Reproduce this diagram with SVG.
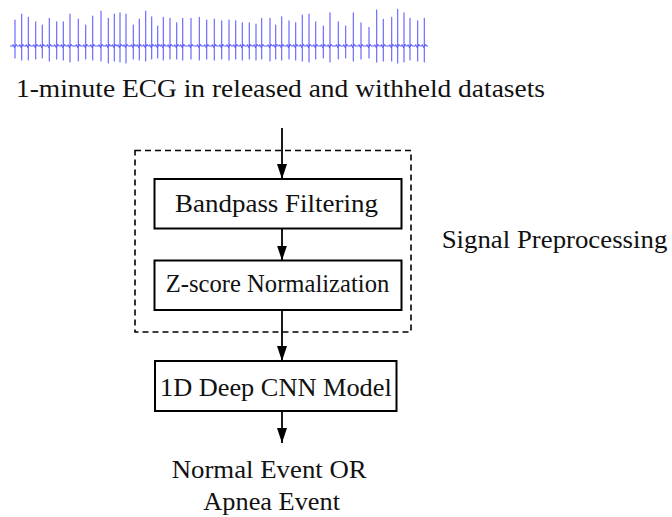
<svg xmlns="http://www.w3.org/2000/svg" width="672" height="517" viewBox="0 0 672 517">
<defs>
<marker id="ah" markerUnits="userSpaceOnUse" markerWidth="15" markerHeight="10" refX="15" refY="5" orient="auto">
<path d="M0,0 L15,5 L0,10 z" fill="#000"/>
</marker>
<style>
.t{font-family:"Liberation Serif","Times New Roman",serif;font-size:24.5px;fill:#111;}
.box{fill:#fff;stroke:#000;stroke-width:2;}
.con{stroke:#000;stroke-width:1.8;fill:none;marker-end:url(#ah);}
</style>
</defs>
<rect width="672" height="517" fill="#fff"/>
<g id="ecg">
<path fill="none" stroke="#1a1aff" stroke-width="1.1" stroke-opacity="0.7" stroke-linejoin="round" d="M10,46
H12.3 l0.8,-1.2 l0.6,1.2 l0.8,1.5 l0.5,0 V20 V58 V47 l1.2,-2.5 l1.2,1.5
H19 l0.8,-1.2 l0.6,1.2 l0.8,1.5 l0.5,0 V14 V60 V47 l1.2,-2.5 l1.2,1.5
H25.6 l0.8,-1.2 l0.6,1.2 l0.8,1.5 l0.5,0 V17.3 V60 V47 l1.2,-2.5 l1.2,1.5
H33 l0.8,-1.2 l0.6,1.2 l0.8,1.5 l0.5,0 V21.7 V59 V47 l1.2,-2.5 l1.2,1.5
H39.6 l0.8,-1.2 l0.6,1.2 l0.8,1.5 l0.5,0 V25 V58 V47 l1.2,-2.5 l1.2,1.5
H46.6 l0.8,-1.2 l0.6,1.2 l0.8,1.5 l0.5,0 V18.3 V61 V47 l1.2,-2.5 l1.2,1.5
H54 l0.8,-1.2 l0.6,1.2 l0.8,1.5 l0.5,0 V21.7 V59 V47 l1.2,-2.5 l1.2,1.5
H60.6 l0.8,-1.2 l0.6,1.2 l0.8,1.5 l0.5,0 V21.7 V60 V47 l1.2,-2.5 l1.2,1.5
H67.3 l0.8,-1.2 l0.6,1.2 l0.8,1.5 l0.5,0 V14 V62 V47 l1.2,-2.5 l1.2,1.5
H75.6 l0.8,-1.2 l0.6,1.2 l0.8,1.5 l0.5,0 V19 V61 V47 l1.2,-2.5 l1.2,1.5
H83 l0.8,-1.2 l0.6,1.2 l0.8,1.5 l0.5,0 V25 V59 V47 l1.2,-2.5 l1.2,1.5
H90 l0.8,-1.2 l0.6,1.2 l0.8,1.5 l0.5,0 V16 V60 V47 l1.2,-2.5 l1.2,1.5
H98.3 l0.8,-1.2 l0.6,1.2 l0.8,1.5 l0.5,0 V11 V61 V47 l1.2,-2.5 l1.2,1.5
H105.6 l0.8,-1.2 l0.6,1.2 l0.8,1.5 l0.5,0 V18.3 V63 V47 l1.2,-2.5 l1.2,1.5
H111.6 l0.8,-1.2 l0.6,1.2 l0.8,1.5 l0.5,0 V14 V61 V47 l1.2,-2.5 l1.2,1.5
H117.3 l0.8,-1.2 l0.6,1.2 l0.8,1.5 l0.5,0 V12.7 V62 V47 l1.2,-2.5 l1.2,1.5
H123.3 l0.8,-1.2 l0.6,1.2 l0.8,1.5 l0.5,0 V14 V63 V47 l1.2,-2.5 l1.2,1.5
H130.6 l0.8,-1.2 l0.6,1.2 l0.8,1.5 l0.5,0 V25 V59 V47 l1.2,-2.5 l1.2,1.5
H136.6 l0.8,-1.2 l0.6,1.2 l0.8,1.5 l0.5,0 V19 V60 V47 l1.2,-2.5 l1.2,1.5
H143 l0.8,-1.2 l0.6,1.2 l0.8,1.5 l0.5,0 V11 V61 V47 l1.2,-2.5 l1.2,1.5
H149 l0.8,-1.2 l0.6,1.2 l0.8,1.5 l0.5,0 V16.7 V59 V47 l1.2,-2.5 l1.2,1.5
H155 l0.8,-1.2 l0.6,1.2 l0.8,1.5 l0.5,0 V26 V58 V47 l1.2,-2.5 l1.2,1.5
H160.6 l0.8,-1.2 l0.6,1.2 l0.8,1.5 l0.5,0 V17.3 V60 V47 l1.2,-2.5 l1.2,1.5
H167.3 l0.8,-1.2 l0.6,1.2 l0.8,1.5 l0.5,0 V18.3 V59 V47 l1.2,-2.5 l1.2,1.5
H174 l0.8,-1.2 l0.6,1.2 l0.8,1.5 l0.5,0 V22.7 V59 V47 l1.2,-2.5 l1.2,1.5
H180 l0.8,-1.2 l0.6,1.2 l0.8,1.5 l0.5,0 V18.3 V60 V47 l1.2,-2.5 l1.2,1.5
H188.3 l0.8,-1.2 l0.6,1.2 l0.8,1.5 l0.5,0 V18.3 V59 V47 l1.2,-2.5 l1.2,1.5
H196.6 l0.8,-1.2 l0.6,1.2 l0.8,1.5 l0.5,0 V17.3 V60 V47 l1.2,-2.5 l1.2,1.5
H204 l0.8,-1.2 l0.6,1.2 l0.8,1.5 l0.5,0 V20 V59 V47 l1.2,-2.5 l1.2,1.5
H211.6 l0.8,-1.2 l0.6,1.2 l0.8,1.5 l0.5,0 V19 V60 V47 l1.2,-2.5 l1.2,1.5
H219 l0.8,-1.2 l0.6,1.2 l0.8,1.5 l0.5,0 V20.7 V59 V47 l1.2,-2.5 l1.2,1.5
H226.3 l0.8,-1.2 l0.6,1.2 l0.8,1.5 l0.5,0 V20 V60 V47 l1.2,-2.5 l1.2,1.5
H233 l0.8,-1.2 l0.6,1.2 l0.8,1.5 l0.5,0 V20.7 V59 V47 l1.2,-2.5 l1.2,1.5
H239.6 l0.8,-1.2 l0.6,1.2 l0.8,1.5 l0.5,0 V22.7 V60 V47 l1.2,-2.5 l1.2,1.5
H246.6 l0.8,-1.2 l0.6,1.2 l0.8,1.5 l0.5,0 V22.7 V59 V47 l1.2,-2.5 l1.2,1.5
H253.3 l0.8,-1.2 l0.6,1.2 l0.8,1.5 l0.5,0 V24 V60 V47 l1.2,-2.5 l1.2,1.5
H259 l0.8,-1.2 l0.6,1.2 l0.8,1.5 l0.5,0 V18.3 V59 V47 l1.2,-2.5 l1.2,1.5
H267.3 l0.8,-1.2 l0.6,1.2 l0.8,1.5 l0.5,0 V18.3 V61 V47 l1.2,-2.5 l1.2,1.5
H273 l0.8,-1.2 l0.6,1.2 l0.8,1.5 l0.5,0 V25 V59 V47 l1.2,-2.5 l1.2,1.5
H279 l0.8,-1.2 l0.6,1.2 l0.8,1.5 l0.5,0 V16.7 V60 V47 l1.2,-2.5 l1.2,1.5
H286.3 l0.8,-1.2 l0.6,1.2 l0.8,1.5 l0.5,0 V20.7 V59 V47 l1.2,-2.5 l1.2,1.5
H293 l0.8,-1.2 l0.6,1.2 l0.8,1.5 l0.5,0 V22.7 V60 V47 l1.2,-2.5 l1.2,1.5
H299.6 l0.8,-1.2 l0.6,1.2 l0.8,1.5 l0.5,0 V15 V61 V47 l1.2,-2.5 l1.2,1.5
H306.3 l0.8,-1.2 l0.6,1.2 l0.8,1.5 l0.5,0 V14 V62 V47 l1.2,-2.5 l1.2,1.5
H313 l0.8,-1.2 l0.6,1.2 l0.8,1.5 l0.5,0 V21.7 V59 V47 l1.2,-2.5 l1.2,1.5
H320.6 l0.8,-1.2 l0.6,1.2 l0.8,1.5 l0.5,0 V26 V58 V47 l1.2,-2.5 l1.2,1.5
H327.3 l0.8,-1.2 l0.6,1.2 l0.8,1.5 l0.5,0 V12.7 V62 V47 l1.2,-2.5 l1.2,1.5
H335.6 l0.8,-1.2 l0.6,1.2 l0.8,1.5 l0.5,0 V21.7 V59 V47 l1.2,-2.5 l1.2,1.5
H343 l0.8,-1.2 l0.6,1.2 l0.8,1.5 l0.5,0 V26 V58 V47 l1.2,-2.5 l1.2,1.5
H350.6 l0.8,-1.2 l0.6,1.2 l0.8,1.5 l0.5,0 V12.7 V61 V47 l1.2,-2.5 l1.2,1.5
H358.3 l0.8,-1.2 l0.6,1.2 l0.8,1.5 l0.5,0 V22.7 V59 V47 l1.2,-2.5 l1.2,1.5
H366.3 l0.8,-1.2 l0.6,1.2 l0.8,1.5 l0.5,0 V27.3 V58 V47 l1.2,-2.5 l1.2,1.5
H374 l0.8,-1.2 l0.6,1.2 l0.8,1.5 l0.5,0 V10 V62 V47 l1.2,-2.5 l1.2,1.5
H380.6 l0.8,-1.2 l0.6,1.2 l0.8,1.5 l0.5,0 V19.3 V61 V47 l1.2,-2.5 l1.2,1.5
H389 l0.8,-1.2 l0.6,1.2 l0.8,1.5 l0.5,0 V17.3 V61 V47 l1.2,-2.5 l1.2,1.5
H395 l0.8,-1.2 l0.6,1.2 l0.8,1.5 l0.5,0 V9.3 V63 V47 l1.2,-2.5 l1.2,1.5
H401.3 l0.8,-1.2 l0.6,1.2 l0.8,1.5 l0.5,0 V12.7 V62 V47 l1.2,-2.5 l1.2,1.5
H407.3 l0.8,-1.2 l0.6,1.2 l0.8,1.5 l0.5,0 V18.3 V60 V47 l1.2,-2.5 l1.2,1.5
H415 l0.8,-1.2 l0.6,1.2 l0.8,1.5 l0.5,0 V20.7 V61 V47 l1.2,-2.5 l1.2,1.5
H421.6 l0.8,-1.2 l0.6,1.2 l0.8,1.5 l0.5,0 V18.3 V62 V47 l1.2,-2.5 l1.2,1.5
H428"/>
</g>
<g id="title"><text class="t" x="16" y="97" textLength="529" lengthAdjust="spacingAndGlyphs">1-minute ECG in released and withheld datasets</text></g>
<g id="preprocessing">
<rect x="135" y="150.5" width="276" height="181.5" fill="none" stroke="#000" stroke-width="1.6" stroke-dasharray="6,4"/>
<text class="t" x="441.7" y="248" textLength="225.6" lengthAdjust="spacingAndGlyphs">Signal Preprocessing</text>
</g>
<g id="connectors">
<line class="con" x1="282" y1="128" x2="282" y2="179"/>
<line class="con" x1="282" y1="228.5" x2="282" y2="260.5"/>
<line class="con" x1="282" y1="310" x2="282" y2="361"/>
<line class="con" x1="282" y1="411" x2="282" y2="443"/>
</g>
<g id="bandpass">
<rect class="box" x="154.5" y="179" width="247" height="49.5"/>
<text class="t" x="175" y="212.3" textLength="203" lengthAdjust="spacingAndGlyphs">Bandpass Filtering</text>
</g>
<g id="zscore">
<rect class="box" x="154.5" y="260.5" width="247" height="49.5"/>
<text class="t" x="165.7" y="292.3" textLength="223.6" lengthAdjust="spacingAndGlyphs">Z-score Normalization</text>
</g>
<g id="cnn">
<rect class="box" x="155" y="361" width="241.5" height="50"/>
<text class="t" x="160" y="395.7" textLength="231.7" lengthAdjust="spacingAndGlyphs">1D Deep CNN Model</text>
</g>
<g id="output">
<text class="t" x="171.7" y="477.7" textLength="195" lengthAdjust="spacingAndGlyphs">Normal Event OR</text>
<text class="t" x="203.3" y="510" textLength="136.7" lengthAdjust="spacingAndGlyphs">Apnea Event</text>
</g>
</svg>
